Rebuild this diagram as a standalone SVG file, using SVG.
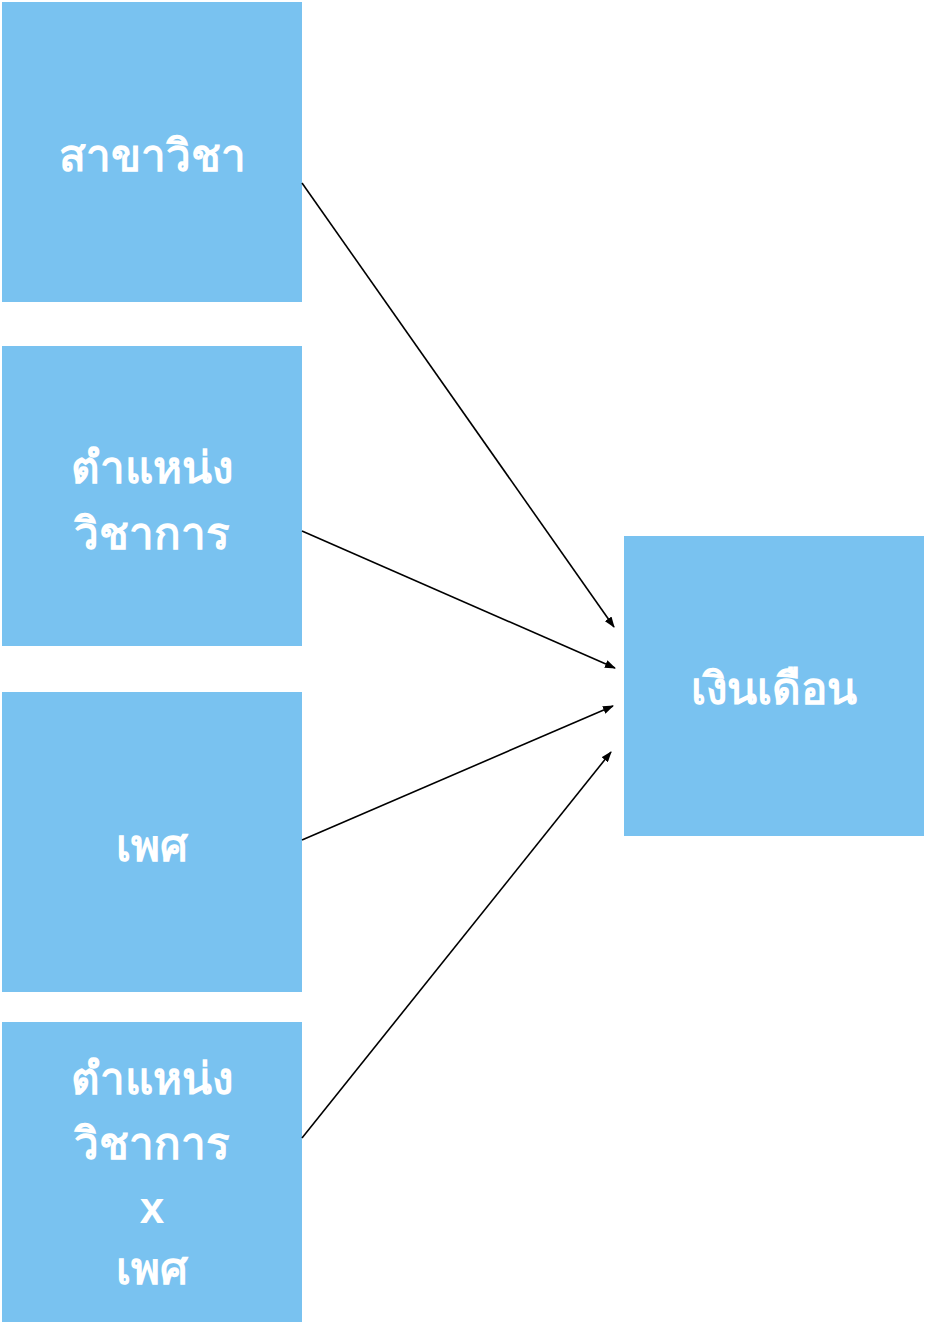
<svg xmlns="http://www.w3.org/2000/svg" width="926" height="1324" viewBox="0 0 926 1324">
<style>
.box{fill:#79C2F0;}
.lbl{fill:#ffffff;font-family:"Liberation Sans",sans-serif;font-weight:bold;font-size:44px;text-anchor:middle;}
.edge{stroke:#000;stroke-width:1.6;fill:none;marker-end:url(#ah);}
</style>
<defs>
<marker id="ah" markerWidth="11" markerHeight="8" refX="10" refY="4" orient="auto" markerUnits="userSpaceOnUse">
<path d="M0,0 L11,4 L0,8 Z" fill="#000"/>
</marker>
</defs>
<rect width="926" height="1324" fill="#fff"/>
<g id="n1"><rect class="box" x="2" y="2" width="300" height="300"/><text class="lbl" x="152" y="171">สาขาวิชา</text></g>
<g id="n2"><rect class="box" x="2" y="346" width="300" height="300"/><text class="lbl" x="152" y="483">ตำแหน่ง</text><text class="lbl" x="152" y="549">วิชาการ</text></g>
<g id="n3"><rect class="box" x="2" y="692" width="300" height="300"/><text class="lbl" x="152" y="861">เพศ</text></g>
<g id="n4"><rect class="box" x="2" y="1022" width="300" height="300"/><text class="lbl" x="152" y="1094">ตำแหน่ง</text><text class="lbl" x="152" y="1159">วิชาการ</text><text class="lbl" x="152" y="1223">x</text><text class="lbl" x="152" y="1284">เพศ</text></g>
<g id="n5"><rect class="box" x="624" y="536" width="300" height="300"/><text class="lbl" x="774" y="704">เงินเดือน</text></g>
<g id="edges">
<line class="edge" x1="302" y1="183" x2="614" y2="627"/>
<line class="edge" x1="302" y1="531" x2="615" y2="668"/>
<line class="edge" x1="302" y1="840" x2="613" y2="706"/>
<line class="edge" x1="302" y1="1138" x2="611" y2="752"/>
</g>
</svg>
